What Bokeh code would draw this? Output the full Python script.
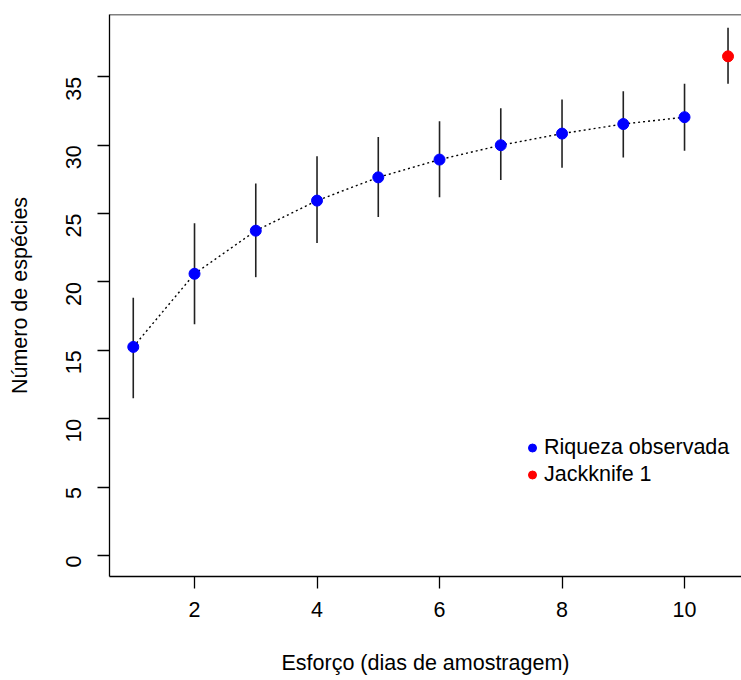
import math
from bokeh.plotting import figure
from bokeh.models import Range1d, FixedTicker, Legend, LegendItem, Span, LinearAxis
from bokeh.embed import file_html
from bokeh.resources import INLINE

# data
effort = [1, 2, 3, 4, 5, 6, 7, 8, 9, 10]
richness = [15.25, 20.6, 23.75, 25.95, 27.65, 28.95, 30.0, 30.85, 31.55, 32.05]
rich_low = [11.5, 16.9, 20.35, 22.85, 24.75, 26.2, 27.45, 28.35, 29.1, 29.6]
rich_high = [18.85, 24.3, 27.2, 29.2, 30.6, 31.75, 32.7, 33.35, 33.95, 34.5]
jack_x = [10.71]
jack_y = [36.5]
jack_low = [34.5]
jack_high = [38.6]
x_ticks = [2, 4, 6, 8, 10]
y_ticks = [0, 5, 10, 15, 20, 25, 30, 35]
x_title = "Esforço (dias de amostragem)"
y_title = "Número de espécies"

FONT = "Liberation Sans"
FS = "21.5px"

p = figure(width=741, height=680, output_backend="svg", toolbar_location=None,
           x_range=Range1d(0.612, 10.93), y_range=Range1d(-1.54, 39.56),
           min_border_left=109, min_border_right=0, min_border_top=14, min_border_bottom=104)
p.grid.visible = False
p.outline_line_color = None
p.background_fill_color = "white"
p.border_fill_color = "white"

p.add_layout(Span(location=39.56, dimension="width", line_color="black", line_width=1.3))

for ax in (p.xaxis[0], p.yaxis[0]):
    ax.axis_line_color = "black"
    ax.axis_line_width = 1.3
    ax.major_tick_line_color = "black"
    ax.major_tick_line_width = 1.3
    ax.major_tick_out = 12
    ax.major_tick_in = 0
    ax.minor_tick_line_color = None
    ax.major_label_text_font = FONT
    ax.major_label_text_font_size = FS
    ax.major_label_text_color = "black"
    ax.axis_label_text_font = FONT
    ax.axis_label_text_font_size = FS
    ax.axis_label_text_font_style = "normal"
    ax.axis_label_text_color = "black"

p.xaxis.ticker = FixedTicker(ticks=x_ticks)
p.yaxis.ticker = FixedTicker(ticks=y_ticks)
p.yaxis.major_label_orientation = math.pi / 2
p.yaxis.axis_label = y_title
p.xaxis.major_label_standoff = 13
p.yaxis.major_label_standoff = 24
p.yaxis.axis_label_standoff = 24

# x axis title carried by a second, tick-less axis stacked below the first
title_axis = LinearAxis(ticker=FixedTicker(ticks=[]), axis_line_color=None,
                        major_tick_line_color=None, minor_tick_line_color=None,
                        major_tick_out=0, major_tick_in=0, major_label_standoff=0,
                        axis_label=x_title, axis_label_standoff=31,
                        axis_label_text_font=FONT, axis_label_text_font_size=FS,
                        axis_label_text_font_style="normal", axis_label_text_color="black")
p.add_layout(title_axis, "below")

# dotted accumulation line
p.line(effort, richness, line_color="black", line_width=1.4, line_dash="2 3")

# error bars
p.segment(x0=effort, y0=rich_low, x1=effort, y1=rich_high, line_color="#222222", line_width=1.6)
p.segment(x0=jack_x, y0=jack_low, x1=jack_x, y1=jack_high, line_color="#222222", line_width=1.6)

r_obs = p.scatter(effort, richness, size=11, fill_color="blue", line_color="blue")
r_jack = p.scatter(jack_x, jack_y, size=11, fill_color="red", line_color="red")

legend = Legend(items=[LegendItem(label="Riqueza observada", renderers=[r_obs]),
                       LegendItem(label="Jackknife 1", renderers=[r_jack])],
                location=(413, 88), glyph_width=20, glyph_height=27, label_standoff=2,
                spacing=0, padding=0, margin=0, border_line_color=None,
                background_fill_alpha=0, label_text_font=FONT, label_text_font_size=FS,
                label_text_color="black")
p.add_layout(legend, "center")

open("out.html", "w").write(file_html(p, INLINE))
